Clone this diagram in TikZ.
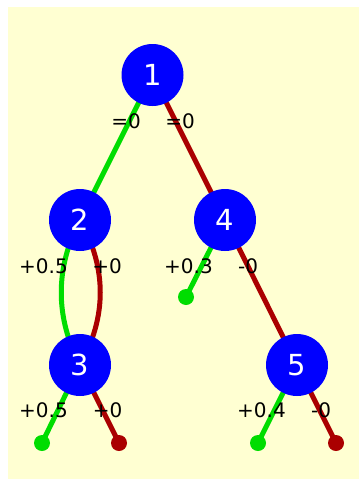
\documentclass[tikz,border=0pt]{standalone}
\usepackage{fontspec}
\setmainfont{DejaVu Sans}
\usetikzlibrary{backgrounds}
\definecolor{bgyellow}{HTML}{FFFFD2}
\definecolor{edgegreen}{HTML}{00DD00}
\definecolor{edgered}{HTML}{AA0000}
\definecolor{nodeblue}{HTML}{0000FF}
\tikzset{
  treenode/.style={circle, fill=nodeblue, draw=none, minimum size=62pt, inner sep=0pt, text=white, font=\fontsize{29}{29}\selectfont},
  leafg/.style={circle, fill=edgegreen, minimum size=16pt, inner sep=0pt},
  leafr/.style={circle, fill=edgered, minimum size=16pt, inner sep=0pt},
  gedge/.style={draw=edgegreen, line width=5pt},
  redge/.style={draw=edgered, line width=5pt},
  lbl/.style={inner sep=0pt, font=\fontsize{20}{20}\selectfont, text=black}
}
\begin{document}
\begin{tikzpicture}[x=1pt, y=-1pt]
\useasboundingbox (0,0) rectangle (359,479);
\node[treenode] (n1) at (152.5,75) {1};
\node[treenode] (n2) at (80,220) {2};
\node[treenode] (n4) at (225,220) {4};
\node[treenode] (n3) at (80,365) {3};
\node[treenode] (n5) at (297,365) {5};
\node[leafg] (l4g) at (186,297) {};
\node[leafg] (l3g) at (42,443) {};
\node[leafr] (l3r) at (119,443) {};
\node[leafg] (l5g) at (258,443) {};
\node[leafr] (l5r) at (336,443) {};
\begin{scope}[on background layer]
  \fill[bgyellow] (8,7) rectangle (359,479);
  \draw[gedge] (n1.center) -- (n2.center);
  \draw[redge] (n1.center) -- (n4.center);
  \draw[gedge] (n2.center) .. controls (55,268) and (55,317) .. (n3.center);
  \draw[redge] (n2.center) .. controls (107,268) and (107,317) .. (n3.center);
  \draw[redge] (n4.center) -- (n5.center);
  \draw[gedge] (n4.center) -- (l4g.center);
  \draw[gedge] (n3.center) -- (l3g.center);
  \draw[redge] (n3.center) -- (l3r.center);
  \draw[gedge] (n5.center) -- (l5g.center);
  \draw[redge] (n5.center) -- (l5r.center);
\end{scope}
\node[lbl] (t1a) at (126,121) {=0};
\node[lbl] (t1b) at (180,121) {=0};
\node[lbl] (t2a) at (43.5,266) {+0.5};
\node[lbl] (t2b) at (107,266) {+0};
\node[lbl] (t4a) at (188.5,266) {+0.3};
\node[lbl] (t4b) at (248,266) {-0};
\node[lbl] (t3a) at (43.5,410) {+0.5};
\node[lbl] (t3b) at (107.5,410) {+0};
\node[lbl] (t5a) at (261.5,410) {+0.4};
\node[lbl] (t5b) at (321,410) {-0};
\end{tikzpicture}
\end{document}
